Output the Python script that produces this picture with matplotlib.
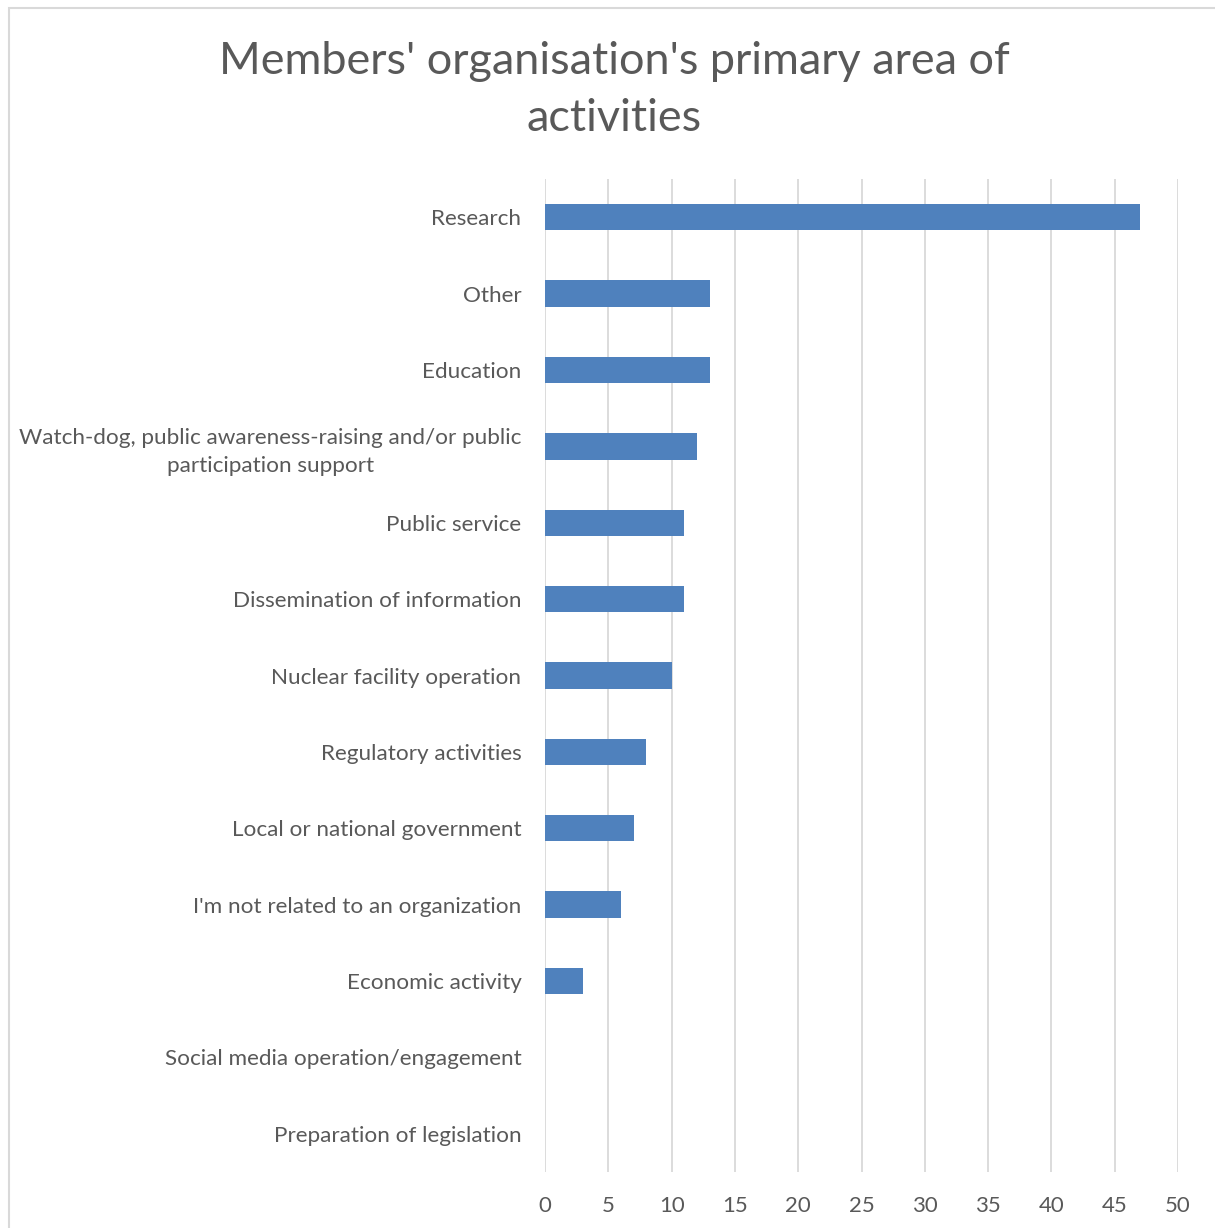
import matplotlib
matplotlib.use("Agg")
import matplotlib.pyplot as plt
from matplotlib.patches import Rectangle

categories = [
    "Research",
    "Other",
    "Education",
    "Watch-dog, public awareness-raising and/or public\nparticipation support",
    "Public service",
    "Dissemination of information",
    "Nuclear facility operation",
    "Regulatory activities",
    "Local or national government",
    "I'm not related to an organization",
    "Economic activity",
    "Social media operation/engagement",
    "Preparation of legislation",
]
values = [47, 13, 13, 12, 11, 11, 10, 8, 7, 6, 3, 0, 0]
xticks = [0, 5, 10, 15, 20, 25, 30, 35, 40, 45, 50]
title = "Members' organisation's primary area of\nactivities"

plt.rcParams['font.family'] = ['Lato', 'DejaVu Sans']
TXT = "#595959"
W, H = 1215, 1228
fig = plt.figure(figsize=(W / 100, H / 100), dpi=100)
fig.patch.set_facecolor("white")

# chart border (partially cropped in reference)
fig.add_artist(Rectangle((9 / W, -0.01), 1.05, (H - 8) / H + 0.01,
                         transform=fig.transFigure, fill=False,
                         edgecolor="#D9D9D9", linewidth=1.5))

ax = fig.add_axes([545 / W, 56 / H, 633 / W, 993 / H])
n = len(categories)
ypos = list(range(n))
ax.barh(ypos, values, height=0.345, color="#4F81BD", zorder=3)
ax.set_ylim(n - 0.5, -0.5)
ax.set_xlim(0, 50)
ax.set_xticks(xticks)
ax.set_xticklabels([str(t) for t in xticks], color=TXT, fontsize=16)
ax.set_yticks(ypos)
ax.set_yticklabels(categories, color=TXT, fontsize=16.2, multialignment="center",
                   linespacing=1.5)
ax.tick_params(axis="both", length=0)
ax.tick_params(axis="y", pad=17)
ax.tick_params(axis="x", pad=17)
ax.grid(axis="x", color="#D9D9D9", linewidth=1.3, zorder=0)
for s in ax.spines.values():
    s.set_visible(False)

fig.text(614 / W, 1 - 90 / H, title, ha="center", va="center", fontsize=32.4,
         color=TXT, linespacing=1.5)

fig.savefig("out.png", dpi=100, facecolor="white")
